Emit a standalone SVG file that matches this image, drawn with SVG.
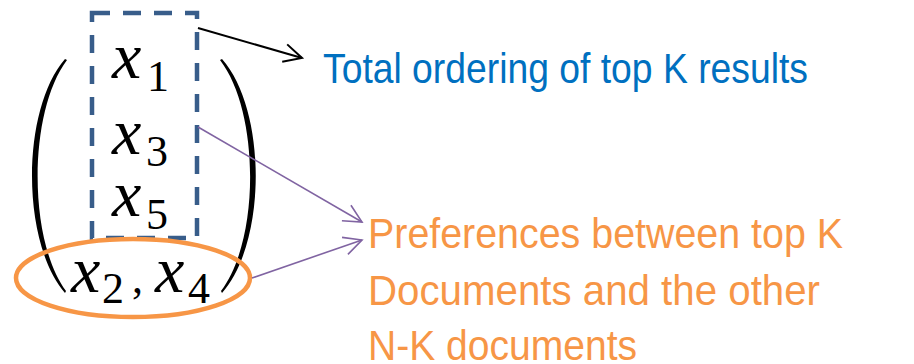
<svg xmlns="http://www.w3.org/2000/svg" width="914" height="364" viewBox="0 0 914 364">
  <style>
    .math { font-family: "Liberation Serif", "DejaVu Serif", serif; fill: #000; }
    .var { font-style: italic; font-size: 66px; }
    .sub { font-size: 44px; }
    .label { font-family: "Liberation Sans", Arial, sans-serif; font-size: 42px; }
    .blue { fill: #0070C0; }
    .orange { fill: #F79646; }
    .conn { fill: none; }
    .conn-black { stroke: #000; stroke-width: 2; }
    .conn-purple { stroke: #8064A2; stroke-width: 1.6; }
  </style>
  <defs>
    <marker id="open-black" markerUnits="userSpaceOnUse" markerWidth="24" markerHeight="24" viewBox="-20 -12 24 24" refX="0" refY="0" orient="auto">
      <path d="M-18,-9 L0,0 L-18,9" fill="none" stroke="#000" stroke-width="2"/>
    </marker>
    <marker id="open-purple" markerUnits="userSpaceOnUse" markerWidth="24" markerHeight="24" viewBox="-20 -12 24 24" refX="0" refY="0" orient="auto">
      <path d="M-18,-9 L0,0 L-18,9" fill="none" stroke="#8064A2" stroke-width="1.6"/>
    </marker>
  </defs>
  <rect width="914" height="364" fill="#fff"/>

  <!-- big parentheses around the vector -->
  <g id="vector-brackets" fill="#000">
    <path d="M65,59 C21,110 21,242 65,293 L66,291 C28,240 28,112 67,60 Z"/>
    <path d="M222,59 C267,110 267,242 222,293 L221,291 C260,240 260,112 220,60 Z"/>
  </g>

  <!-- top K block -->
  <g id="top-k">
    <rect x="92" y="13" width="105" height="225" fill="none" stroke="#385D8A" stroke-width="4.5" stroke-dasharray="18 13"/>
    <text class="math" x="112" y="78"><tspan class="var">x</tspan><tspan class="sub" x="147" y="91">1</tspan></text>
    <text class="math" x="112" y="154"><tspan class="var">x</tspan><tspan class="sub" x="146" y="166">3</tspan></text>
    <text class="math" x="112" y="216"><tspan class="var">x</tspan><tspan class="sub" x="146" y="229">5</tspan></text>
  </g>

  <!-- remaining documents -->
  <g id="rest">
    <ellipse cx="133" cy="278" rx="117" ry="39" fill="none" stroke="#F79646" stroke-width="4.5"/>
    <text class="math" x="71" y="292"><tspan class="var">x</tspan><tspan class="sub" x="102" y="303">2</tspan><tspan class="sub" x="132" y="293">,</tspan><tspan class="var" x="155" y="292">x</tspan><tspan class="sub" x="188" y="303">4</tspan></text>
  </g>

  <!-- labels -->
  <g id="label-total">
    <text class="label blue" x="323" y="83" textLength="485" lengthAdjust="spacingAndGlyphs">Total ordering of top K results</text>
  </g>
  <g id="label-preferences" class="label orange">
    <text x="368" y="248" textLength="475" lengthAdjust="spacingAndGlyphs">Preferences between top K</text>
    <text x="368" y="305" textLength="452" lengthAdjust="spacingAndGlyphs">Documents and the other</text>
    <text x="368" y="360" textLength="269" lengthAdjust="spacingAndGlyphs">N-K documents</text>
  </g>

  <!-- connectors -->
  <g id="connectors" class="conn">
    <line class="conn-black" x1="198" y1="28" x2="302" y2="58" marker-end="url(#open-black)"/>
    <line class="conn-purple" x1="198" y1="127" x2="362" y2="222" marker-end="url(#open-purple)"/>
    <line class="conn-purple" x1="252" y1="278" x2="362" y2="240" marker-end="url(#open-purple)"/>
  </g>
</svg>
